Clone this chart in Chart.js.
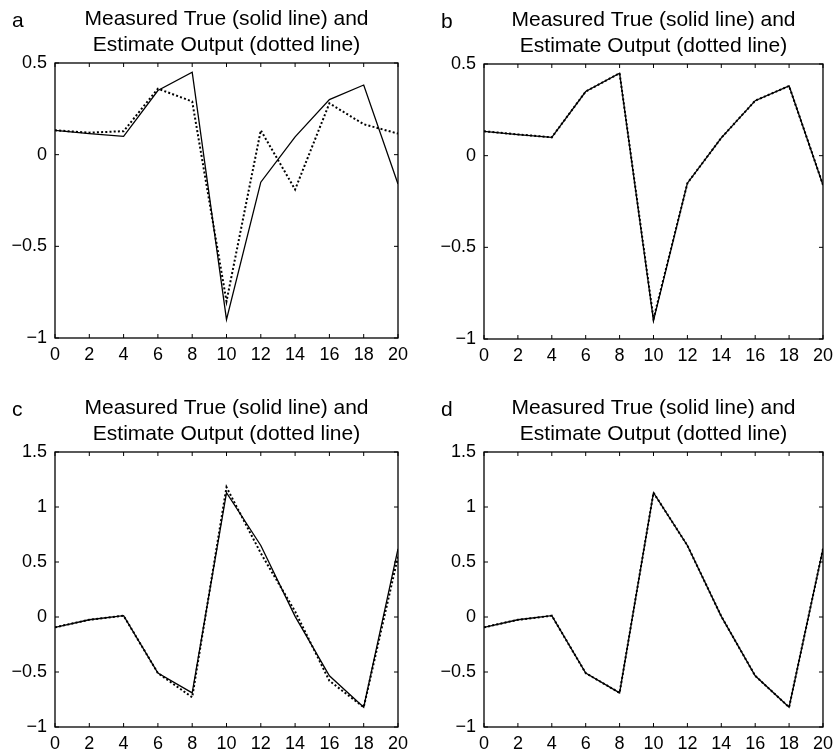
<!DOCTYPE html>
<html>
<head>
<meta charset="utf-8">
<script src="https://cdn.jsdelivr.net/npm/chart.js@4.4.0/dist/chart.umd.min.js"></script>
<style>
    body { margin: 0; background: #fff; width: 839px; height: 753px; position: relative; overflow: hidden; }
    .panel { position: absolute; }
</style>
</head>
<body>
<div class="panel" style="left:0;top:0"><canvas id="chart_a" width="420" height="368"></canvas></div>
<div class="panel" style="left:429px;top:1px"><canvas id="chart_b" width="410" height="368"></canvas></div>
<div class="panel" style="left:0;top:389px"><canvas id="chart_c" width="420" height="368"></canvas></div>
<div class="panel" style="left:429px;top:389px"><canvas id="chart_d" width="410" height="368"></canvas></div>
<script>
// sample index (x axis)
var steps = [0, 2, 4, 6, 8, 10, 12, 14, 16, 18, 20];

// panel a / b
var trueA = [0.133, 0.115, 0.10, 0.35, 0.45, -0.90, -0.15, 0.097, 0.30, 0.38, -0.16];
var estA = [0.133, 0.12, 0.128, 0.36, 0.29, -0.80, 0.133, -0.19, 0.28, 0.166, 0.115];
var trueB = [0.133, 0.115, 0.10, 0.35, 0.45, -0.90, -0.15, 0.097, 0.30, 0.38, -0.16];
var estB = [0.133, 0.116, 0.10, 0.35, 0.45, -0.89, -0.15, 0.097, 0.30, 0.38, -0.16];

// panel c / d
var trueC = [-0.094, -0.025, 0.012, -0.51, -0.69, 1.13, 0.65, 0.006, -0.535, -0.82, 0.62];
var estC = [-0.094, -0.025, 0.012, -0.51, -0.73, 1.18, 0.58, 0.05, -0.58, -0.82, 0.55];
var trueD = [-0.094, -0.025, 0.012, -0.51, -0.69, 1.13, 0.65, 0.006, -0.535, -0.82, 0.62];
var estD = [-0.094, -0.025, 0.012, -0.51, -0.69, 1.13, 0.65, 0.006, -0.535, -0.82, 0.62];

var titleLines = ["Measured True (solid line) and", "Estimate Output (dotted line)"];
var yTicksTop = [-1, -0.5, 0, 0.5];
var yTicksBottom = [-1, -0.5, 0, 0.5, 1, 1.5];

var FONT = "'Liberation Sans', Arial, Helvetica, sans-serif";

function toPoints(ys) {
    return steps.map(function (x, i) { return { x: x, y: ys[i] }; });
}

// box round the plot plus inward tick marks (matlab look)
var boxPlugin = {
    id: 'box',
    afterDraw: function (chart, args, opts) {
        var ctx = chart.ctx, a = chart.chartArea;
        var xs = chart.scales.x, ys = chart.scales.y;
        var len = 4;
        ctx.save();
        ctx.strokeStyle = '#000';
        ctx.lineWidth = 1.3;
        ctx.strokeRect(a.left, a.top, a.right - a.left, a.bottom - a.top);
        ctx.lineWidth = 1;
        ctx.beginPath();
        xs.ticks.forEach(function (t) {
            var px = xs.getPixelForValue(t.value);
            ctx.moveTo(px, a.bottom); ctx.lineTo(px, a.bottom - len);
            ctx.moveTo(px, a.top); ctx.lineTo(px, a.top + len);
        });
        ys.ticks.forEach(function (t) {
            var py = ys.getPixelForValue(t.value);
            ctx.moveTo(a.left, py); ctx.lineTo(a.left + len, py);
            ctx.moveTo(a.right, py); ctx.lineTo(a.right - len, py);
        });
        ctx.stroke();
        ctx.fillStyle = '#000';
        ctx.font = '21px ' + FONT;
        ctx.textAlign = 'left';
        ctx.textBaseline = 'alphabetic';
        ctx.fillText(opts.letter, 12, 26.5);
        ctx.restore();
    }
};

function getChartJs(letter, solid, dotted, yMin, yMax, rightPad) {
    return {
        type: 'line',
        data: {
            datasets: [{
                label: 'Measured True',
                data: toPoints(solid),
                borderColor: '#000',
                borderWidth: 1.3,
                pointRadius: 0,
                tension: 0
            }, {
                label: 'Estimate Output',
                data: toPoints(dotted),
                borderColor: '#000',
                borderWidth: 2,
                borderDash: [2, 2.2],
                pointRadius: 0,
                tension: 0
            }]
        },
        options: {
            responsive: false,
            animation: false,
            layout: { padding: { left: 0, right: rightPad, top: 0, bottom: 0 } },
            plugins: {
                legend: { display: false },
                tooltip: { enabled: false },
                title: {
                    display: true,
                    fullSize: false,
                    text: titleLines,
                    color: '#000',
                    font: { family: FONT, size: 21, weight: 'normal', lineHeight: 1.2 },
                    padding: { top: 7, bottom: 5.6 }
                },
                box: { letter: letter }
            },
            scales: {
                x: {
                    type: 'linear',
                    min: 0,
                    max: 20,
                    grid: { display: false, drawTicks: false },
                    border: { display: false },
                    ticks: {
                        stepSize: 2,
                        autoSkip: false,
                        maxRotation: 0,
                        padding: 6,
                        color: '#000',
                        font: { family: FONT, size: 18 }
                    },
                    afterFit: function (s) { s.height = 30; }
                },
                y: {
                    min: yMin,
                    max: yMax,
                    grid: { display: false, drawTicks: false },
                    border: { display: false },
                    ticks: {
                        stepSize: 0.5,
                        padding: 8,
                        color: '#000',
                        font: { family: FONT, size: 18 },
                        callback: function (v) { return v < 0 ? '\u2212' + Math.abs(v) : String(v); }
                    },
                    afterFit: function (s) { s.width = 55; }
                }
            }
        },
        plugins: [boxPlugin]
    };
}

new Chart(document.getElementById('chart_a').getContext('2d'), getChartJs('a', trueA, estA, yTicksTop[0], yTicksTop[yTicksTop.length - 1], 22));
new Chart(document.getElementById('chart_b').getContext('2d'), getChartJs('b', trueB, estB, yTicksTop[0], yTicksTop[yTicksTop.length - 1], 10));
new Chart(document.getElementById('chart_c').getContext('2d'), getChartJs('c', trueC, estC, yTicksBottom[0], yTicksBottom[yTicksBottom.length - 1], 22));
new Chart(document.getElementById('chart_d').getContext('2d'), getChartJs('d', trueD, estD, yTicksBottom[0], yTicksBottom[yTicksBottom.length - 1], 10));
</script>
</body>
</html>
